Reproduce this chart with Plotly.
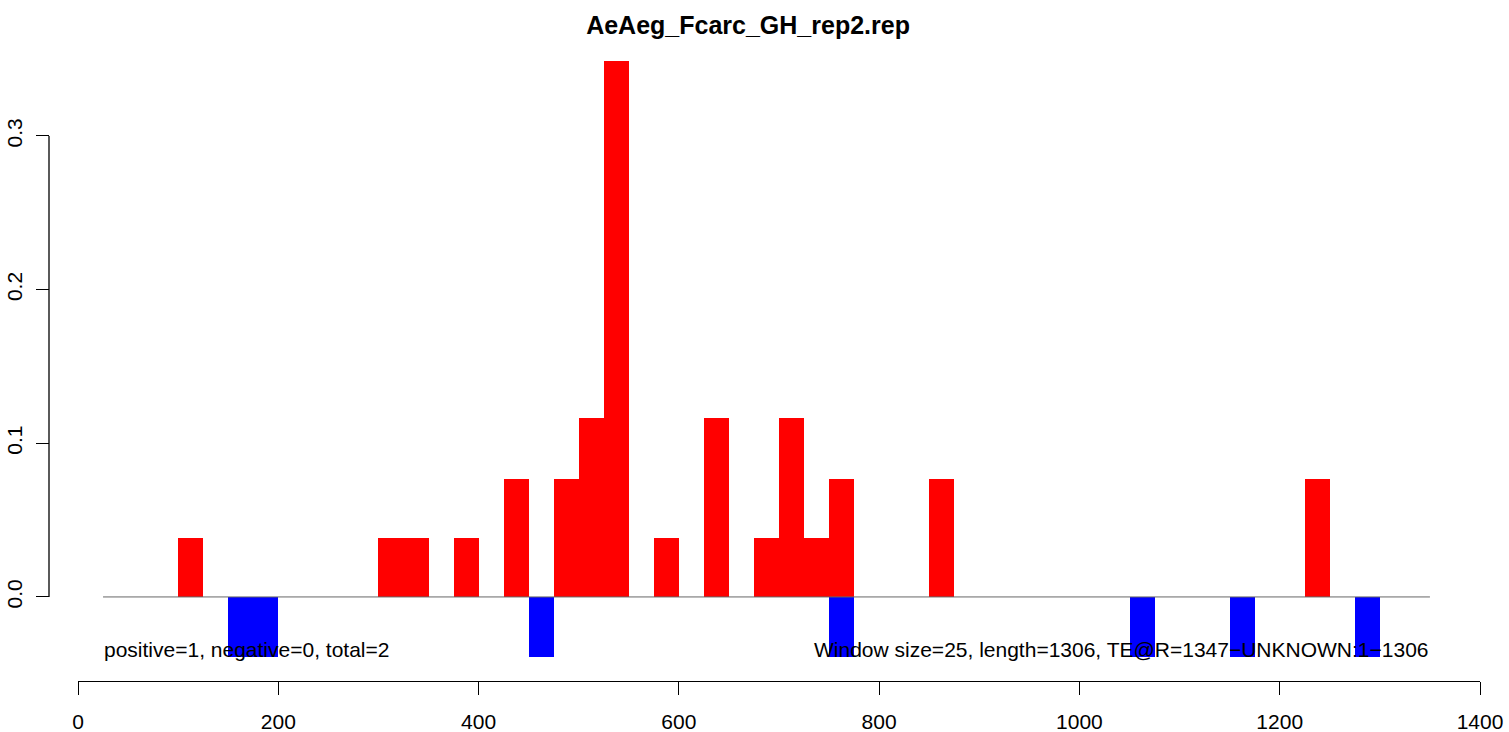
import plotly.graph_objects as go

# window starts (window size 25) and densities
pos_starts = [100, 300, 325, 375, 425, 475, 500, 525, 575, 625, 675, 700, 725, 750, 850, 1225]
pos_values = [0.0385, 0.0385, 0.0385, 0.0385, 0.077, 0.077, 0.1165, 0.349,
              0.0385, 0.1165, 0.0385, 0.1165, 0.0385, 0.077, 0.077, 0.077]
neg_starts = [150, 175, 450, 750, 1050, 1150, 1275]
neg_values = [-0.039, -0.039, -0.039, -0.039, -0.039, -0.039, -0.039]

window = 25
x_ticks = [0, 200, 400, 600, 800, 1000, 1200, 1400]
y_ticks = [0.0, 0.1, 0.2, 0.3]
y_labels = ["0.0", "0.1", "0.2", "0.3"]

title = "AeAeg_Fcarc_GH_rep2.rep"
left_note = "positive=1, negative=0, total=2"
right_note = "Window size=25, length=1306, TE@R=1347\u2212UNKNOWN:1\u22121306"

font = "Liberation Sans, Arial, sans-serif"

fig = go.Figure()
fig.add_trace(go.Bar(
    x=[s + window / 2 for s in pos_starts], y=pos_values, width=window,
    marker=dict(color="#FF0000", line=dict(width=0)), showlegend=False))
fig.add_trace(go.Bar(
    x=[s + window / 2 for s in neg_starts], y=neg_values, width=window,
    marker=dict(color="#0000FF", line=dict(width=0)), showlegend=False))

# baseline
fig.add_shape(type="line", x0=25, x1=1350, y0=0, y1=0, xref="x", yref="y",
              line=dict(color="#666666", width=1), layer="above")
# R-style y axis line only across the tick span
fig.add_shape(type="line", x0=0, x1=0, y0=0, y1=0.3, xref="paper", yref="y",
              line=dict(color="black", width=1.3))

fig.add_annotation(x=25, y=-0.0344, xref="x", yref="y", text=left_note,
                   showarrow=False, xanchor="left", yanchor="middle",
                   font=dict(size=21, color="black"), borderpad=0)
fig.add_annotation(x=1350, y=-0.0344, xref="x", yref="y", text=right_note,
                   showarrow=False, xanchor="right", yanchor="middle",
                   font=dict(size=21, color="black"), borderpad=0)

fig.update_layout(
    width=1509, height=732,
    margin=dict(l=49, r=29, t=37, b=51),
    paper_bgcolor="white", plot_bgcolor="white",
    barmode="overlay", bargap=0,
    font=dict(family=font, size=21, color="black"),
    title=dict(text="<b>" + title + "</b>", x=0.4885, xref="paper",
               y=1 - 25 / 732, yref="container", xanchor="center", yanchor="middle",
               font=dict(size=25, color="black")),
    xaxis=dict(domain=[29 / 1431, 1], range=[0, 1400], tickvals=x_ticks,
               showline=True, linecolor="black", linewidth=1.3,
               ticks="outside", ticklen=13, tickwidth=1.3, tickcolor="black",
               showgrid=False, zeroline=False, ticklabelstandoff=9,
               automargin=False),
    yaxis=dict(anchor="free", position=0, range=[-0.0547, 0.3644],
               tickvals=y_ticks, ticktext=y_labels, tickangle=-90,
               ticks="outside", ticklen=13, tickwidth=1.3, tickcolor="black",
               showline=False, showgrid=False, zeroline=False, ticklabelstandoff=6,
               automargin=False),
)

# drop the default 8px page margin so the figure fills the window
fig.write_html("out.html", config={"displayModeBar": False},
               post_script="document.body.style.margin='0';")
